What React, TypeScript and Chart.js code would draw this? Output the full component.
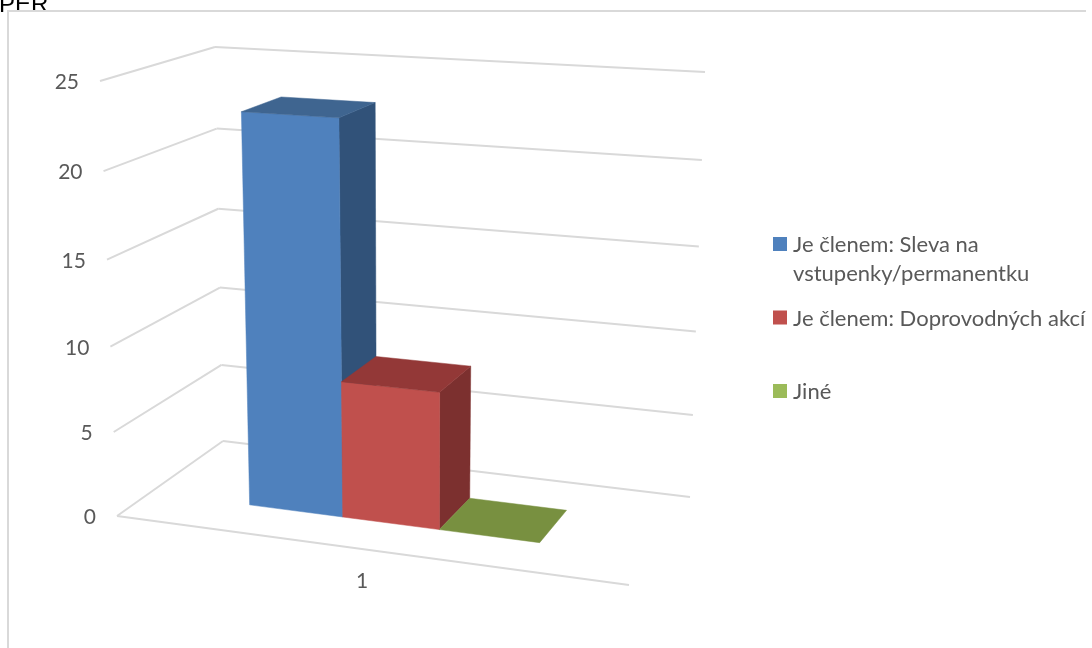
import React, { useEffect, useRef } from "react";
import { Chart, registerables } from "chart.js";

Chart.register(...registerables);

const categories = ["1"];
const sleva = [23];
const doprovodnych = [8];
const jine = [0];
const legendSleva = ["Je členem: Sleva na", "vstupenky/permanentku"];
const legendDoprovodnych = ["Je členem: Doprovodných akcí", ""];
const legendJine = ["Jiné"];
const fronts = ["#4f81bd", "#c0504d", "#9bbb59"];
const tops = ["#3f6590", "#933837", "#789040"];
const sides = ["#315279", "#7c302f", "#5f7530"];
const tickValues = [0, 5, 10, 15, 20, 25];
const cutTitle = "PER";

// Camera: screen position of the 8 corners of the plot box (floor, then top)
const corners = {
  fl0: [117, 516], fr0: [629, 585], bl0: [223, 441], br0: [690, 497],
  fl1: [100, 81], fr1: [639, 113], bl1: [215, 47], br1: [705, 72],
};
const persp = 1.045;
const perspU = 1.1;
const barDepth = [0.32, 0.7];
const barShift = 0.0055;
const FONT = "Lato";
const TEXT = "#595959";
const GRID = "#d9d9d9";

const mix = (a: number[], b: number[], k: number) => [a[0] + (b[0] - a[0]) * k, a[1] + (b[1] - a[1]) * k];

function project(u: number, v: number, t: number) {
  const w = t / (t + (1 - t) * persp);
  const c = corners;
  const floor = mix(mix(c.fl0, c.fr0, u), mix(c.bl0, c.br0, u), v);
  const ceil = mix(mix(c.fl1, c.fr1, u), mix(c.bl1, c.br1, u), v);
  return mix(floor, ceil, w);
}

const warpU = (u: number) => u / (u + (1 - u) * perspU);

function poly(ctx: CanvasRenderingContext2D, pts: number[][], fill: string) {
  ctx.beginPath();
  pts.forEach((p, i) => (i ? ctx.lineTo(p[0], p[1]) : ctx.moveTo(p[0], p[1])));
  ctx.closePath();
  ctx.fillStyle = fill;
  ctx.fill();
  ctx.strokeStyle = fill;
  ctx.lineWidth = 0.5;
  ctx.stroke();
}

function line(ctx: CanvasRenderingContext2D, a: number[], b: number[]) {
  ctx.beginPath();
  ctx.moveTo(a[0], a[1]);
  ctx.lineTo(b[0], b[1]);
  ctx.strokeStyle = GRID;
  ctx.lineWidth = 2;
  ctx.stroke();
}

const perspectivePlugin = {
  id: "perspective",
  afterLayout(chart: any) {
    const lg = chart.legend;
    const dx = 757.5 - lg.left;
    const dy = 218.5 - lg.top;
    lg.left += dx;
    lg.right += dx;
    lg.top += dy;
    lg.bottom = 648;
    lg.legendHitBoxes.forEach((h: any) => {
      h.left += dx;
      h.top += dy;
    });
  },
  beforeDatasetsDraw(chart: any) {
    const { ctx, scales, chartArea } = chart;
    const yS = scales.y;
    const frac = (val: number) => (yS.bottom - yS.getPixelForValue(val)) / (yS.bottom - yS.top);
    ctx.save();

    // cut-off heading, partly hidden behind the frame, then the outer frame
    ctx.fillStyle = "#000000";
    ctx.font = "24px 'Liberation Sans'";
    ctx.textAlign = "left";
    ctx.textBaseline = "alphabetic";
    ctx.fillText(cutTitle, -1, 12);
    ctx.fillStyle = "#ffffff";
    ctx.fillRect(0, 12, chart.width, 2);
    ctx.fillStyle = GRID;
    ctx.fillRect(7, 10, chart.width - 7, 2);
    ctx.fillRect(7, 10, 2, chart.height - 10);

    // gridlines and axis labels
    ctx.font = `21px ${FONT}`;
    ctx.fillStyle = TEXT;
    ctx.textBaseline = "middle";
    tickValues.forEach((val) => {
      const t = frac(val);
      const a = project(0, 0, t);
      const b = project(0, 1, t);
      const c = project(1, 1, t);
      line(ctx, a, b);
      line(ctx, b, c);
      ctx.textAlign = "right";
      ctx.fillStyle = TEXT;
      ctx.fillText(String(val), a[0] - 21, a[1] + 1.5);
    });
    line(ctx, project(0, 0, 0), project(1, 0, 0));
    ctx.textAlign = "center";
    ctx.fillStyle = TEXT;
    const lp = project(0.5, 0, 0);
    categories.forEach((cat) => ctx.fillText(cat, lp[0] - 11, lp[1] + 31));

    // bars in perspective, from the bar elements' own geometry
    chart.data.datasets.forEach((ds: any, i: number) => {
      const bar = chart.getDatasetMeta(i).data[0];
      const u0 = warpU((bar.x - bar.width / 2 - chartArea.left) / chartArea.width + barShift);
      const u1 = warpU((bar.x + bar.width / 2 - chartArea.left) / chartArea.width + barShift);
      const t = frac(ds.data[0]);
      const [v0, v1] = barDepth;
      const P = (u: number, v: number, h: number) => project(u, v, h);
      if (t > 0) {
        poly(ctx, [P(u1, v0, 0), P(u1, v1, 0), P(u1, v1, t), P(u1, v0, t)], sides[i]);
        poly(ctx, [P(u0, v0, 0), P(u1, v0, 0), P(u1, v0, t), P(u0, v0, t)], fronts[i]);
      }
      poly(ctx, [P(u0, v0, t), P(u1, v0, t), P(u1, v1, t), P(u0, v1, t)], tops[i]);
    });
    ctx.restore();
    return false;
  },
  afterDraw(chart: any) {
    const { ctx } = chart;
    const lg = chart.legend;
    ctx.save();
    lg.legendItems.forEach((item: any, i: number) => {
      const h = lg.legendHitBoxes[i];
      ctx.fillStyle = item.fillStyle;
      ctx.fillRect(lg.left + 15.5, h.top + 3, 14, 14);
    });
    ctx.restore();
  },
};

export default function App() {
  const ref = useRef<HTMLCanvasElement>(null);
  useEffect(() => {
    if (!ref.current) return;
    const chart = new Chart(ref.current, {
      type: "bar",
      data: {
        labels: categories,
        datasets: [
          { label: legendSleva as any, data: sleva, backgroundColor: fronts[0] },
          { label: legendDoprovodnych as any, data: doprovodnych, backgroundColor: fronts[1] },
          { label: legendJine as any, data: jine, backgroundColor: fronts[2] },
        ],
      },
      options: {
        responsive: false,
        animation: false,
        devicePixelRatio: 1,
        datasets: { bar: { categoryPercentage: 0.583, barPercentage: 1 } },
        scales: {
          x: { display: false },
          y: { display: false, min: 0, max: 25, ticks: { stepSize: 5 } },
        },
        plugins: {
          title: { display: false },
          tooltip: { enabled: false },
          legend: {
            display: true,
            position: "right",
            align: "start",
            onClick: () => {},
            labels: {
              boxWidth: 9,
              boxHeight: 1,
              padding: 15.5,
              color: TEXT,
              font: { family: FONT, size: 22, lineHeight: 29 / 22 },
            },
          },
        },
      },
      plugins: [perspectivePlugin],
    } as any);
    return () => chart.destroy();
  }, []);
  return (
    <div style={{ position: "fixed", left: 0, top: 0, width: 1092, height: 648, background: "#fff", overflow: "hidden" }}>
      <canvas ref={ref} width={1086} height={648} style={{ display: "block" }} />
    </div>
  );
}
